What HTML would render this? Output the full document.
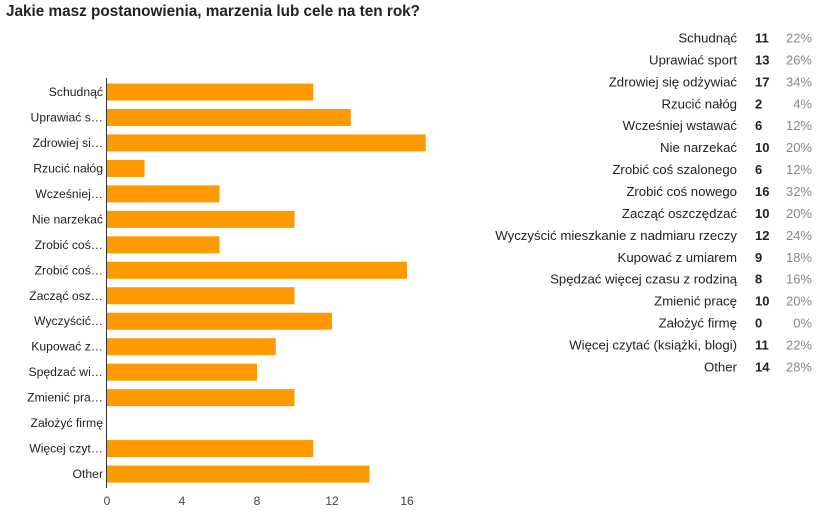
<!DOCTYPE html>
<html><head><meta charset="utf-8">
<style>
body{margin:0;width:832px;height:518px;background:#fff;font-family:"Liberation Sans",Arial,sans-serif;overflow:hidden;position:relative}
h1{position:absolute;left:6px;top:3px;margin:0;font-size:15.3px;font-weight:bold;color:#222}
</style></head><body>
<h1>Jakie masz postanowienia, marzenia lub cele na ten rok?</h1>
<svg id="chart" width="832" height="518" style="position:absolute;left:0;top:0"></svg>
<script>
const categories=["Schudnąć","Uprawiać sport","Zdrowiej się odżywiać","Rzucić nałóg","Wcześniej wstawać","Nie narzekać","Zrobić coś szalonego","Zrobić coś nowego","Zacząć oszczędzać","Wyczyścić mieszkanie z nadmiaru rzeczy","Kupować z umiarem","Spędzać więcej czasu z rodziną","Zmienić pracę","Założyć firmę","Więcej czytać (książki, blogi)","Other"];
const shortLabels=["Schudnąć","Uprawiać s…","Zdrowiej si…","Rzucić nałóg","Wcześniej…","Nie narzekać","Zrobić coś…","Zrobić coś…","Zacząć osz…","Wyczyścić…","Kupować z…","Spędzać wi…","Zmienić pra…","Założyć firmę","Więcej czyt…","Other"];
const counts=[11,13,17,2,6,10,6,16,10,12,9,8,10,0,11,14];
const percents=["22%","26%","34%","4%","12%","20%","12%","32%","20%","24%","18%","16%","20%","0%","22%","28%"];
const ticks=[0,4,8,12,16];
const NS="http://www.w3.org/2000/svg";
const svg=document.getElementById('chart');
const x=v=>107+v*18.75;
const y=i=>92+i*25.47;
function mk(t,a,txt){const e=document.createElementNS(NS,t);for(const k in a)e.setAttribute(k,a[k]);if(txt!==undefined)e.textContent=txt;svg.appendChild(e);return e;}
categories.forEach((c,i)=>{
  const b=mk('rect',{x:x(0),y:y(i)-8.5,width:Math.max(0,x(counts[i])-x(0)),height:17,fill:'#ff9900'});
  
  
  const l=mk('text',{x:103,y:y(i)+4,'text-anchor':'end','font-size':'12.2',fill:'#222'},shortLabels[i]);
  
  
  const ty=38+i*21.93;
  const tl=mk('text',{x:737,y:ty+4.5,'text-anchor':'end','font-size':'13.2',fill:'#222'},c);
  
  
  const tc=mk('text',{x:755,y:ty+4.5,'font-size':'13','font-weight':'bold',fill:'#222'},String(counts[i]));
  
  
  const tp=mk('text',{x:812,y:ty+4.5,'text-anchor':'end','font-size':'13',fill:'#888'},percents[i]);
  
  
});
const ax=mk('line',{x1:106.5,x2:106.5,y1:78,y2:488,stroke:'#333','stroke-width':1});


ticks.forEach(t=>{
  const e=mk('text',{x:x(t),y:505,'text-anchor':'middle','font-size':'12',fill:'#444'},String(t));
  
  
});
</script>
</body></html>
